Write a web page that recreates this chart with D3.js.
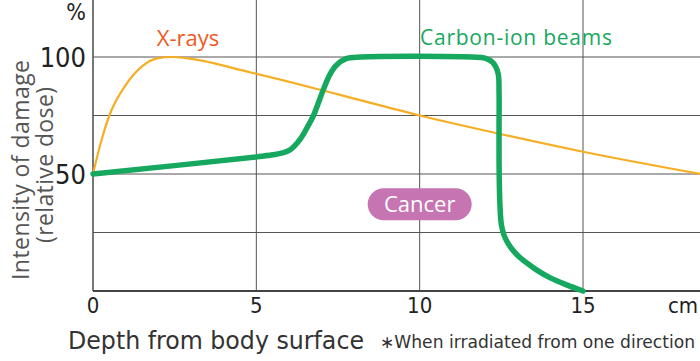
<!DOCTYPE html>
<html>
<head>
<meta charset="utf-8">
<script src="https://cdn.jsdelivr.net/npm/d3@7"></script>
<style>
  body { margin: 0; background: #fff; }
  svg { display: block; }
</style>
</head>
<body>
<div class="dose-chart"></div>
<script>
// depth in cm, dose in %
const xrayDepth = [0, 0.25, 0.5, 1.0, 1.5, 2.0, 2.4, 3.0, 4.8, 7.5, 10, 12.5, 15, 18.6];
const xrayDose  = [50, 64, 75, 88, 96, 99.5, 100, 99.2, 93.5, 84, 75, 67, 59.5, 50];

const carbonDepth = [0, 5, 5.5, 5.8, 6.05, 6.35, 6.6, 6.75, 7.05, 7.25, 7.45, 7.75, 8.2,
  11.6, 12.0, 12.25, 12.4, 12.43, 12.43, 12.43, 12.44, 12.46, 12.5, 12.58, 12.7, 12.85,
  13.05, 13.3, 13.6, 14.0, 14.5, 15];
const carbonDose  = [50, 57.3, 58.2, 59, 60.5, 65, 71, 75, 86, 92.5, 96.5, 99.3, 100,
  100, 99.5, 97.5, 93, 85, 70, 55, 45, 36, 28.5, 24, 20.5, 17.5,
  14.5, 11.8, 8.8, 5.6, 2.6, 0];

const xTicks = [0, 5, 10, 15];
const yTicks = [50, 100];
const yGrid = [25, 50, 75, 100];

const width = 700;
const height = 361;

const svg = d3.select(".dose-chart")
  .append("svg")
  .attr("width", width)
  .attr("height", height);

const x = d3.scaleLinear().domain([0, 15]).range([93, 583]);
const y = d3.scaleLinear().domain([0, 100]).range([291, 57]);

const gridColor = "#555";

// grid
svg.append("g")
  .selectAll("line")
  .data(yGrid)
  .enter()
  .append("line")
  .attr("x1", x(0))
  .attr("x2", width)
  .attr("y1", d => y(d))
  .attr("y2", d => y(d))
  .attr("stroke", gridColor)
  .attr("stroke-width", 1);

svg.append("g")
  .selectAll("line")
  .data(xTicks)
  .enter()
  .append("line")
  .attr("x1", d => x(d))
  .attr("x2", d => x(d))
  .attr("y1", 0)
  .attr("y2", y(0))
  .attr("stroke", gridColor)
  .attr("stroke-width", d => d === 0 ? 1.6 : 1);

// bottom axis line
svg.append("line")
  .attr("x1", x(0))
  .attr("x2", width)
  .attr("y1", y(0))
  .attr("y2", y(0))
  .attr("stroke", "#444")
  .attr("stroke-width", 1.8);

// tick labels
const tickFont = "'DejaVu Sans Condensed', 'DejaVu Sans', sans-serif";

svg.append("g")
  .selectAll("text")
  .data(xTicks)
  .enter()
  .append("text")
  .attr("x", d => x(d))
  .attr("y", 313)
  .attr("text-anchor", "middle")
  .attr("font-family", tickFont)
  .attr("font-stretch", "condensed")
  .attr("font-size", 22)
  .attr("fill", "#222")
  .text(d => d);

svg.append("text")
  .attr("x", 683)
  .attr("y", 313)
  .attr("text-anchor", "middle")
  .attr("font-family", tickFont)
  .attr("font-stretch", "condensed")
  .attr("font-size", 22)
  .attr("fill", "#222")
  .text("cm");

svg.append("g")
  .selectAll("text")
  .data(yTicks)
  .enter()
  .append("text")
  .attr("x", 86)
  .attr("y", d => y(d) + 10)
  .attr("text-anchor", "end")
  .attr("font-family", tickFont)
  .attr("font-stretch", "condensed")
  .attr("font-size", 27)
  .attr("fill", "#222")
  .text(d => d);

svg.append("text")
  .attr("x", 76)
  .attr("y", 20)
  .attr("text-anchor", "middle")
  .attr("font-family", tickFont)
  .attr("font-size", 23)
  .attr("fill", "#222")
  .text("%");

// axis titles
const yTitle = svg.append("g")
  .attr("transform", "translate(0,170) rotate(-90)")
  .attr("font-family", "'Open Sans', sans-serif")
  .attr("fill", "#555")
  .attr("text-anchor", "middle");

yTitle.append("text")
  .attr("x", 0)
  .attr("y", 29)
  .attr("font-size", 23)
  .attr("textLength", 220)
  .text("Intensity of damage");

yTitle.append("text")
  .attr("x", 5)
  .attr("y", 53)
  .attr("font-size", 23)
  .attr("textLength", 156)
  .text("(relative dose)");

svg.append("text")
  .attr("x", 68)
  .attr("y", 349)
  .attr("font-family", tickFont)
  .attr("font-size", 24)
  .attr("fill", "#333")
  .attr("textLength", 296)
  .attr("lengthAdjust", "spacingAndGlyphs")
  .text("Depth from body surface");

svg.append("text")
  .attr("x", 380)
  .attr("y", 348)
  .attr("font-family", tickFont)
  .attr("font-size", 17)
  .attr("fill", "#333")
  .attr("textLength", 315)
  .attr("lengthAdjust", "spacingAndGlyphs")
  .text("\u2217When irradiated from one direction");

// curves
const xrayLine = d3.line()
  .x(d => x(d[0]))
  .y(d => y(d[1]))
  .curve(d3.curveMonotoneX);

const carbonLine = d3.line()
  .x(d => x(d[0]))
  .y(d => y(d[1]))
  .curve(d3.curveCatmullRom.alpha(0.5));

svg.append("path")
  .attr("d", xrayLine(d3.zip(xrayDepth, xrayDose)))
  .attr("fill", "none")
  .attr("stroke", "#f6ae24")
  .attr("stroke-width", 2.2);

svg.append("path")
  .attr("d", carbonLine(d3.zip(carbonDepth, carbonDose)))
  .attr("fill", "none")
  .attr("stroke", "#17a85f")
  .attr("stroke-width", 5.5)
  .attr("stroke-linecap", "round");

// series labels
svg.append("text")
  .attr("x", 188)
  .attr("y", 46)
  .attr("text-anchor", "middle")
  .attr("font-family", "'Open Sans', sans-serif")
  .attr("font-size", 22)
  .attr("fill", "#ee5a24")
  .text("X-rays");

svg.append("text")
  .attr("x", 516)
  .attr("y", 45)
  .attr("text-anchor", "middle")
  .attr("font-family", "'Open Sans', sans-serif")
  .attr("font-size", 21)
  .attr("fill", "#17a85f")
  .attr("textLength", 192)
  .text("Carbon-ion beams");

// cancer label
const cancer = svg.append("g")
  .attr("transform", `translate(${x(10)},${(y(50) + y(25)) / 2 + 1})`);

cancer.append("rect")
  .attr("x", -52)
  .attr("y", -16)
  .attr("width", 104)
  .attr("height", 32)
  .attr("rx", 16)
  .attr("fill", "#c774b2");

cancer.append("text")
  .attr("y", 8)
  .attr("text-anchor", "middle")
  .attr("font-family", "'Open Sans', sans-serif")
  .attr("font-size", 22)
  .attr("fill", "#fff")
  .text("Cancer");
</script>
</body>
</html>
